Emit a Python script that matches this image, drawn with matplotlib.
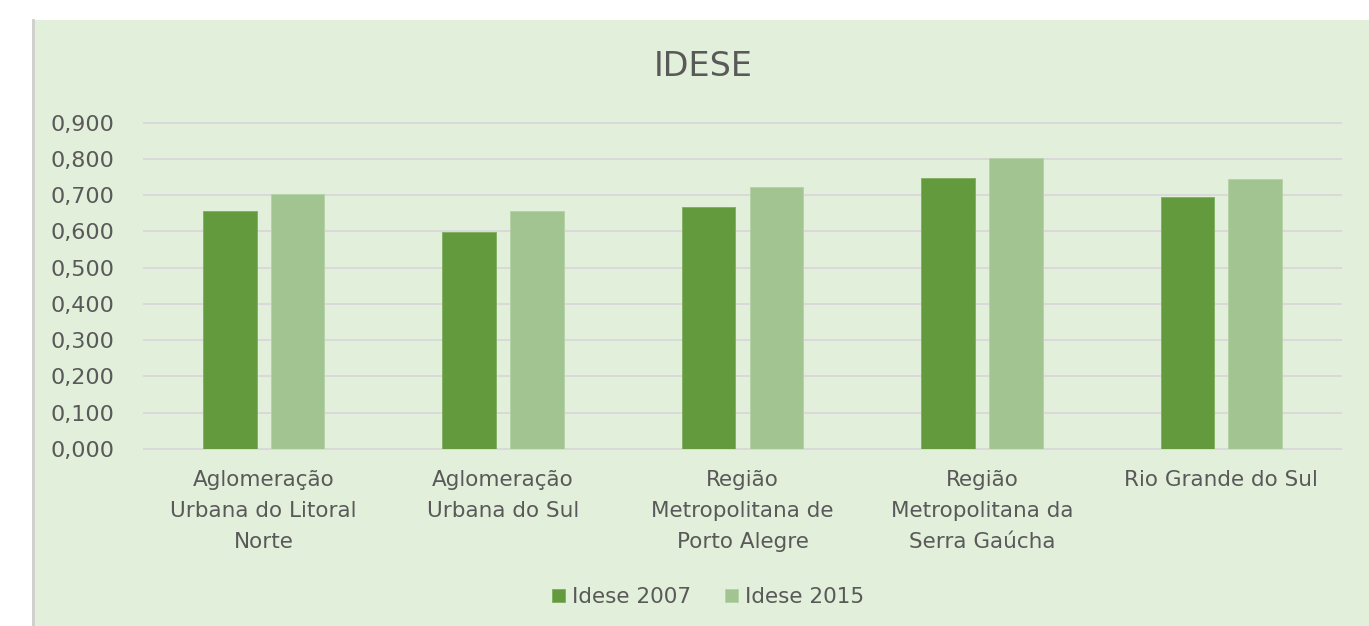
import numpy as np
import matplotlib.pyplot as plt
from matplotlib.patches import Rectangle

# dados
categorias = [
    "Aglomeração\nUrbana do Litoral\nNorte",
    "Aglomeração\nUrbana do Sul",
    "Região\nMetropolitana de\nPorto Alegre",
    "Região\nMetropolitana da\nSerra Gaúcha",
    "Rio Grande do Sul",
]
idese_2007 = [0.656, 0.598, 0.667, 0.747, 0.696]
idese_2015 = [0.702, 0.656, 0.723, 0.804, 0.746]
series = ["Idese 2007", "Idese 2015"]
yticks = [0.0, 0.1, 0.2, 0.3, 0.4, 0.5, 0.6, 0.7, 0.8, 0.9]

COR_ESCURA = "#639A3E"
COR_CLARA = "#A2C490"
FUNDO = "#E2EFDA"
TEXTO = "#595959"
GRADE = "#D9D9D9"
FS = 15.5

W, H = 1369, 626
fig = plt.figure(figsize=(W / 100, H / 100), dpi=100)
fig.patch.set_facecolor("white")

# painel verde do grafico (atras de tudo)
painel = Rectangle((32 / W, 0), 1, 1 - 20 / H, transform=fig.transFigure,
                   facecolor=FUNDO, edgecolor="none", zorder=-10)
fig.add_artist(painel)
fig.add_artist(plt.Line2D([33 / W, 33 / W], [0, 1 - 20 / H], transform=fig.transFigure,
                          color="#CFCFCF", lw=2, zorder=-9))

ax = fig.add_axes([144 / W, 1 - 449 / H, (1341 - 144) / W, (449 - 122.7) / H])
ax.set_zorder(1)
ax.set_facecolor("none")

x = np.arange(len(categorias))
larg = 0.2235
desl = 0.1416
b1 = ax.bar(x - desl, idese_2007, larg, color=COR_ESCURA, edgecolor="#7DAE5E", lw=0.6,
            label=series[0], zorder=3)
b2 = ax.bar(x + desl, idese_2015, larg, color=COR_CLARA, edgecolor="#B5D1A5", lw=0.6,
            label=series[1], zorder=3)

ax.set_xlim(-0.5, len(categorias) - 0.5)
ax.set_ylim(0, 0.9)
ax.set_yticks(yticks)
ax.set_yticklabels([f"{v:.3f}".replace(".", ",") for v in yticks])
ax.set_xticks(x)
ax.set_xticklabels(categorias, linespacing=1.68)
ax.tick_params(axis="both", length=0, labelsize=FS, labelcolor=TEXTO)
ax.tick_params(axis="y", labelsize=16)
ax.tick_params(axis="x", pad=15)
ax.tick_params(axis="y", pad=21)
ax.yaxis.grid(True, color=GRADE, lw=1.4, zorder=0)
for gl in ax.get_ygridlines():
    gl.set_clip_on(False)
ax.set_axisbelow(True)
for s in ["top", "right", "left"]:
    ax.spines[s].set_visible(False)
ax.spines["bottom"].set_color(GRADE)
ax.spines["bottom"].set_linewidth(1.4)

fig.text(703 / W, 1 - 66 / H, "IDESE", ha="center", va="center", fontsize=24, color=TEXTO)

fig.legend(handles=[b1, b2], loc="center", bbox_to_anchor=(708 / W, 1 - 597 / H),
           ncol=2, frameon=False, fontsize=FS, labelcolor=TEXTO,
           handlelength=0.6, handleheight=0.6, handletextpad=0.3, columnspacing=1.6)

fig.savefig("out.png", dpi=100, facecolor=fig.get_facecolor())
